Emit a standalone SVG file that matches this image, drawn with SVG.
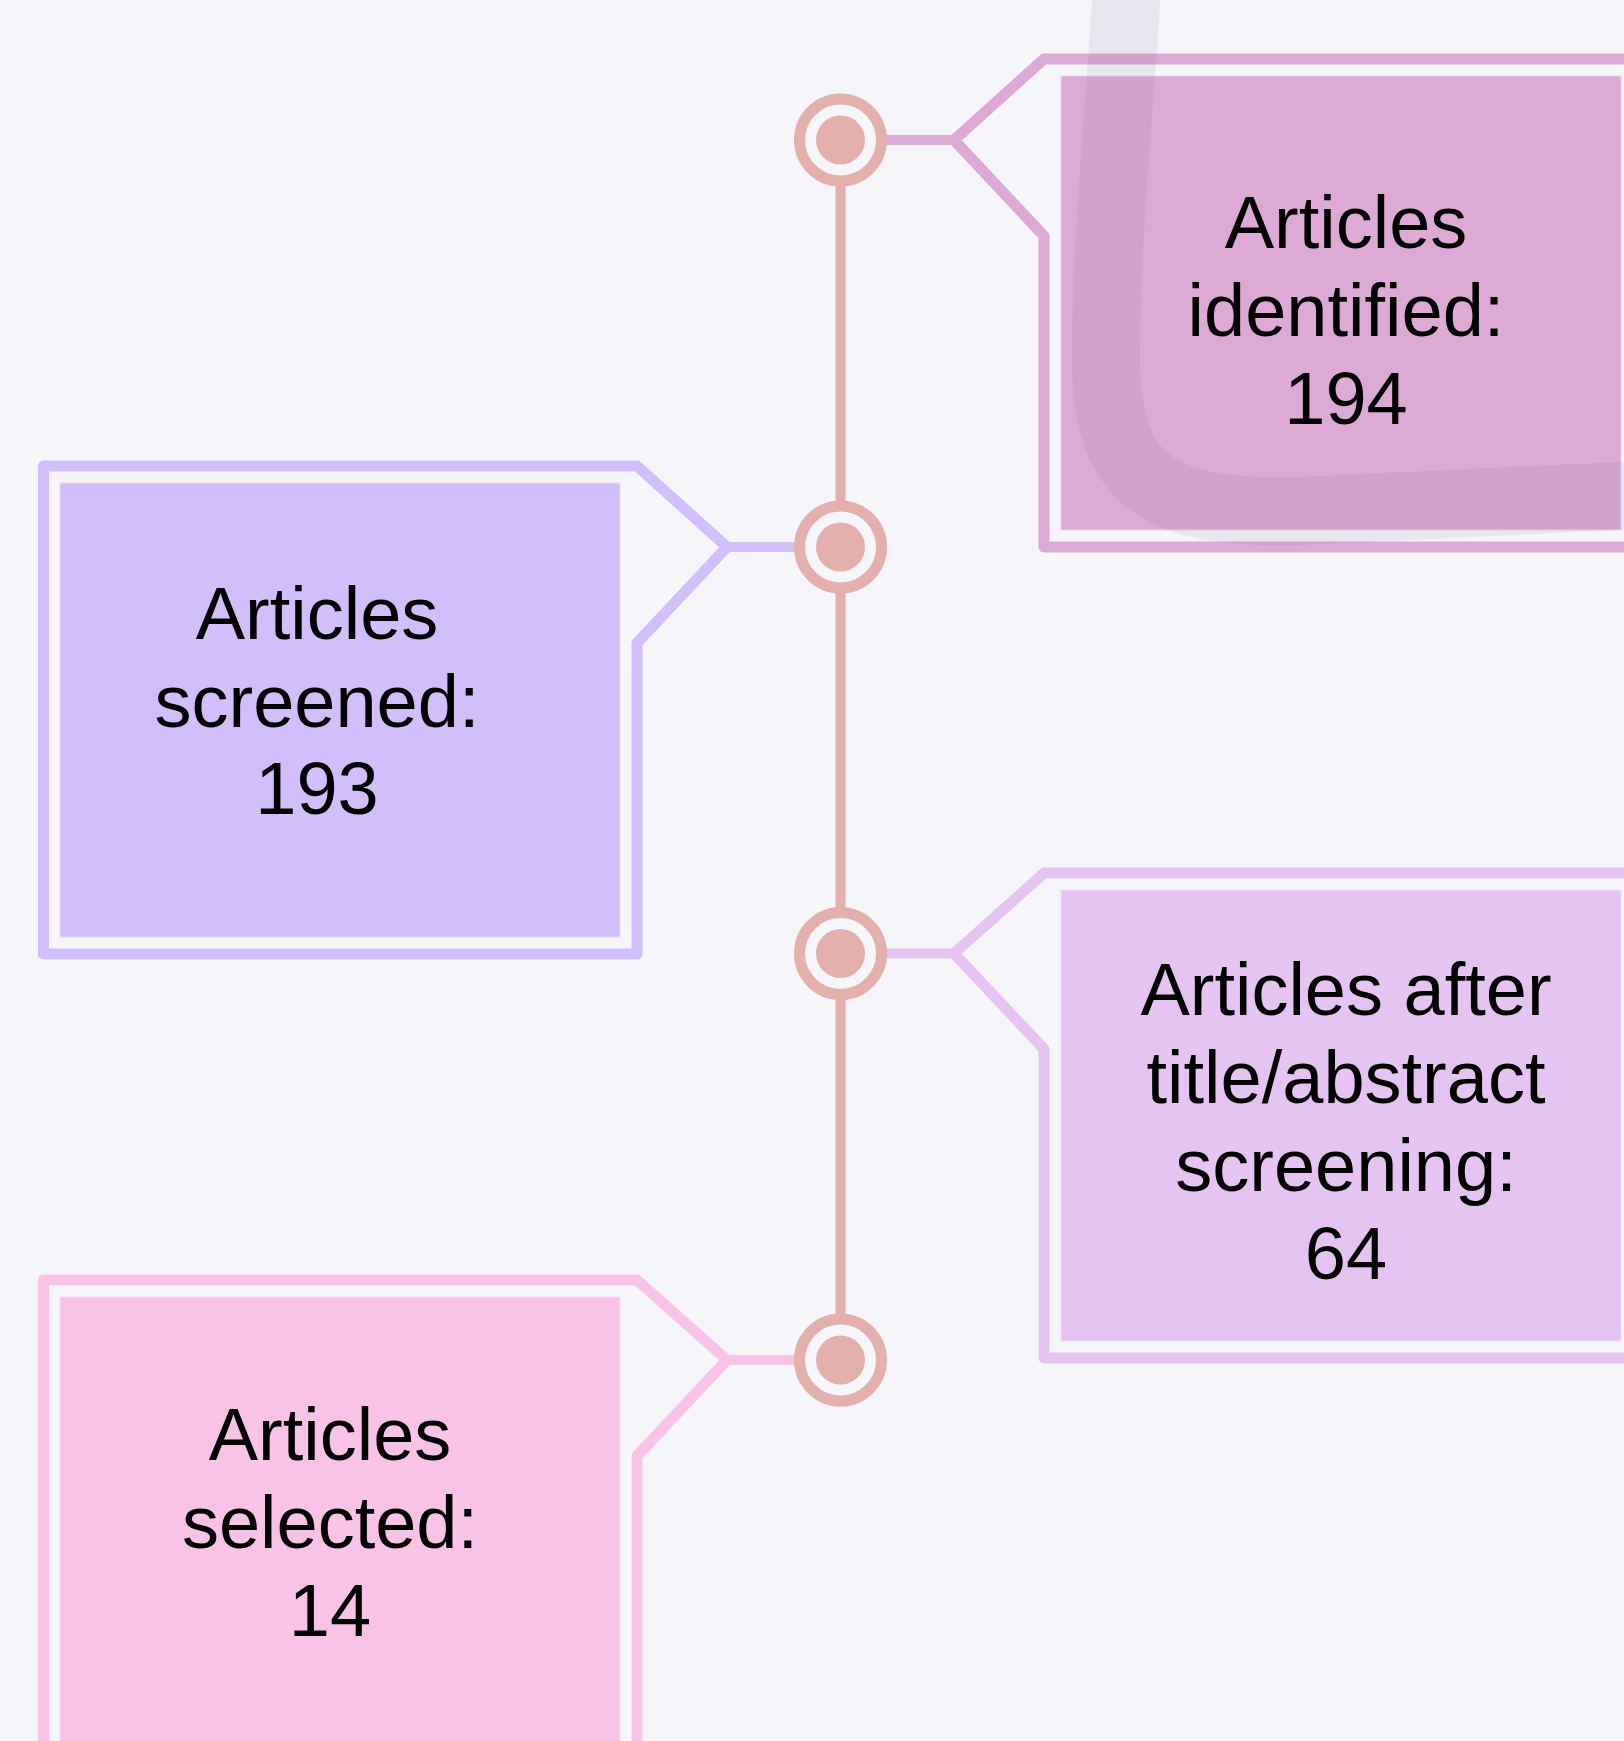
<svg xmlns="http://www.w3.org/2000/svg" width="1624" height="1741" viewBox="0 0 1624 1741">
  <style>
    .frame { fill: none; stroke-width: 11; stroke-linejoin: round; }
    .inner { stroke-width: 1.5; stroke-opacity: 0.6; }
    .link { fill: none; stroke-width: 10; }
    .label { font-family: "Liberation Sans", Arial, sans-serif; font-size: 74px; fill: #000000; text-anchor: middle; }
    .ring { fill: #f5f5fa; stroke: #e4b0ae; stroke-width: 11; }
    .dot { fill: #e4b0ae; }
  </style>
  <rect x="0" y="0" width="1624" height="1741" fill="#f5f5fa"/>

  <g id="connectors">
    <line x1="840.5" y1="140" x2="840.5" y2="1360" stroke="#e4b0ae" stroke-width="10"/>
    <line class="link" x1="840.5" y1="140" x2="954" y2="140" stroke="#dda9d5"/>
    <line class="link" x1="727" y1="547" x2="840.5" y2="547" stroke="#d2befb"/>
    <line class="link" x1="840.5" y1="953.5" x2="954" y2="953.5" stroke="#e6c4f2"/>
    <line class="link" x1="727" y1="1360" x2="840.5" y2="1360" stroke="#f8c3e6"/>
  </g>

  <g id="node-identified">
    <path class="frame" stroke="#dda9d5" d="M954,140 L1044,59 L1637,59 L1637,547 L1044,547 L1044,236 Z"/>
    <rect class="inner" x="1061" y="76" width="560" height="454" fill="#dda9d5" stroke="#f0d6ec"/>
    <text class="label" x="1346" y="247.5">Articles</text>
    <text class="label" x="1346" y="335.7">identified:</text>
    <text class="label" x="1346" y="424">194</text>
  </g>

  <g id="node-screened">
    <path class="frame" stroke="#d2befb" d="M727,547 L637,466 L43.5,466 L43.5,954 L637,954 L637,643 Z"/>
    <rect class="inner" x="60" y="483" width="560" height="454" fill="#d2befb" stroke="#e6dcfd"/>
    <text class="label" x="317" y="638.7">Articles</text>
    <text class="label" x="317" y="726.5">screened:</text>
    <text class="label" x="317" y="814.3">193</text>
  </g>

  <g id="node-after-screening">
    <path class="frame" stroke="#e6c4f2" d="M954,953.5 L1044,873 L1637,873 L1637,1358 L1044,1358 L1044,1049 Z"/>
    <rect class="inner" x="1061" y="890" width="560" height="451" fill="#e6c4f2" stroke="#f1dff8"/>
    <text class="label" x="1346" y="1015">Articles after</text>
    <text class="label" x="1346" y="1103.3">title/abstract</text>
    <text class="label" x="1346" y="1190.7">screening:</text>
    <text class="label" x="1346" y="1279.3">64</text>
  </g>

  <g id="node-selected">
    <path class="frame" stroke="#f8c3e6" d="M727,1360 L637,1280 L43.5,1280 L43.5,1767 L637,1767 L637,1456 Z"/>
    <rect class="inner" x="60" y="1297" width="560" height="453" fill="#f8c3e6" stroke="#fbdcf0"/>
    <text class="label" x="330" y="1460">Articles</text>
    <text class="label" x="330" y="1547.7">selected:</text>
    <text class="label" x="330" y="1635.7">14</text>
  </g>

  <g id="markers">
    <circle class="ring" cx="840.5" cy="140" r="41"/>
    <circle class="dot" cx="840.5" cy="140" r="24.5"/>
    <circle class="ring" cx="840.5" cy="547" r="41"/>
    <circle class="dot" cx="840.5" cy="547" r="24.5"/>
    <circle class="ring" cx="840.5" cy="953.5" r="41"/>
    <circle class="dot" cx="840.5" cy="953.5" r="24.5"/>
    <circle class="ring" cx="840.5" cy="1360" r="41"/>
    <circle class="dot" cx="840.5" cy="1360" r="24.5"/>
  </g>

  <path d="M1127,-10 C1116,150 1106,250 1106,360 C1106,490 1170,514 1300,511 L1640,495" fill="none" stroke="#786e96" stroke-opacity="0.1" stroke-width="68"/>
</svg>
